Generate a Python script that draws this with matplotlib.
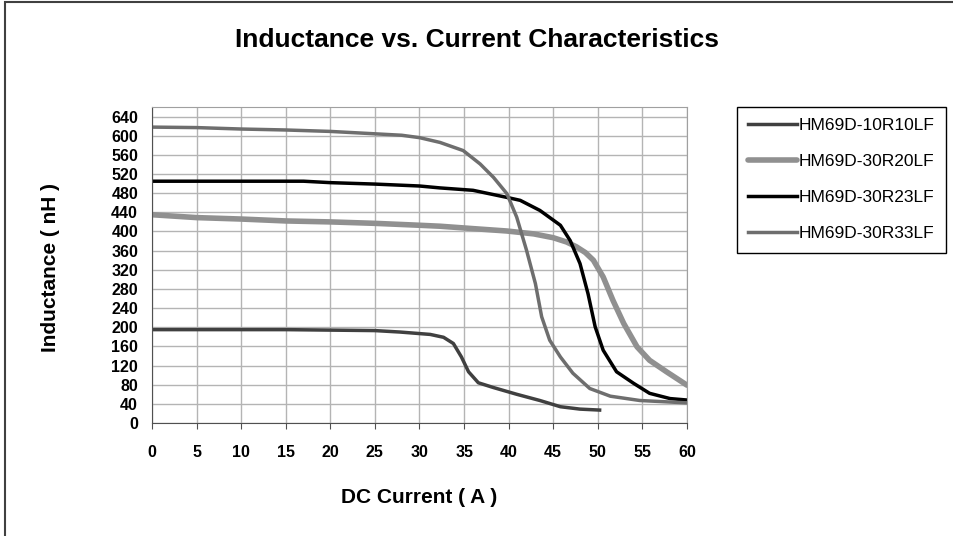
import matplotlib
matplotlib.use("Agg")
import matplotlib.pyplot as plt
from matplotlib.patches import Rectangle

# --- data ---
x_10r10 = [0, 5, 10, 15, 20, 25, 27.8, 31.2, 32.7, 33.8, 34.7, 35.5, 36.6, 38.3, 40.9, 43.5, 45.8, 48, 50.2]
y_10r10 = [195, 195, 195, 195, 194, 193, 190, 185, 179, 166, 138, 107, 84, 74, 60, 47, 34, 29, 27]

x_30r20 = [0, 5, 10, 15, 20, 25, 30, 32.3, 36, 39.8, 42.8, 45, 46.5, 47.6, 48.6, 49.5, 50.6, 51.7, 52.9, 54.4, 55.8, 57.7, 60]
y_30r20 = [435, 429, 426, 422, 420, 417, 413, 411, 406, 401, 395, 387, 378, 368, 356, 340, 305, 256, 208, 159, 131, 107, 79]

x_30r23 = [0, 5, 10, 15, 17, 20, 25, 30, 32.3, 36, 40.1, 41.3, 43.5, 45.8, 46.9, 48, 48.9, 49.7, 50.6, 52.1, 54, 55.8, 58.1, 60]
y_30r23 = [505, 505, 505, 505, 505, 502, 499, 495, 491, 486, 470, 465, 444, 413, 381, 333, 270, 201, 152, 107, 83, 62, 51, 48]

x_30r33 = [0, 5, 10, 15, 20, 25, 28, 30, 32.3, 34.9, 36.8, 38.3, 39.8, 40.9, 42, 43, 43.7, 44.6, 45.8, 47.2, 49.1, 51.4, 54.7, 60]
y_30r33 = [618, 617, 614, 612, 609, 604, 601, 596, 586, 569, 541, 513, 479, 430, 361, 291, 222, 173, 138, 104, 72, 56, 47, 42]

labels = ["HM69D-10R10LF", "HM69D-30R20LF", "HM69D-30R23LF", "HM69D-30R33LF"]
x_ticks = list(range(0, 61, 5))
y_ticks = list(range(0, 641, 40))

plt.rcParams["font.family"] = ["Liberation Sans", "DejaVu Sans"]

fig = plt.figure(figsize=(9.54, 5.36), dpi=100)
fig.patch.set_facecolor("white")

# outer chart border (top and left edges visible)
fig.add_artist(Rectangle((5 / 954, -0.02), 1.0, 1.02 - 1.5 / 536, transform=fig.transFigure,
                         fill=False, edgecolor="#404040", linewidth=1.5))

ax = fig.add_axes([152 / 954, 1 - 423 / 536, 535 / 954, 316 / 536])

ax.plot(x_10r10, y_10r10, color="#404040", lw=2.5, label=labels[0])
ax.plot(x_30r20, y_30r20, color="#909090", lw=4, label=labels[1], solid_capstyle="round")
ax.plot(x_30r23, y_30r23, color="#000000", lw=2.5, label=labels[2])
ax.plot(x_30r33, y_30r33, color="#6e6e6e", lw=2.5, label=labels[3])

ax.set_xlim(0, 60)
ax.set_ylim(0, 660)
ax.set_xticks(x_ticks)
ax.set_yticks(y_ticks)
ax.grid(True, color="#b4b4b4", lw=1)
ax.set_axisbelow(True)
for s in ["top", "right"]:
    ax.spines[s].set_color("#a0a0a0")
for s in ["left", "bottom"]:
    ax.spines[s].set_color("#505050")

ax.tick_params(axis="x", length=4, direction="out", color="#505050", pad=12,
               labelsize=11.5)
ax.tick_params(axis="y", length=0, pad=10, labelsize=11.5)
for t in ax.get_xticklabels() + ax.get_yticklabels():
    t.set_fontweight("bold")

ax.set_xlabel("DC Current ( A )", fontsize=15, fontweight="bold", labelpad=20)
ax.set_ylabel("Inductance ( nH )", fontsize=15, fontweight="bold")
ax.yaxis.set_label_coords(60 / 954, 0.5, transform=fig.transFigure)

fig.text(477 / 954, 1 - 40 / 536, "Inductance vs. Current Characteristics",
         ha="center", va="center", fontsize=19, fontweight="bold")

leg = ax.legend(loc="upper left", bbox_to_anchor=(737 / 954, 1 - 107 / 536),
                bbox_transform=fig.transFigure, borderaxespad=0, fancybox=False,
                edgecolor="black", fontsize=12.5, handlelength=2.8, handletextpad=0.1,
                labelspacing=1.2, borderpad=0.65, framealpha=1)
leg.get_frame().set_linewidth(1)

fig.savefig("out.png", dpi=100)
